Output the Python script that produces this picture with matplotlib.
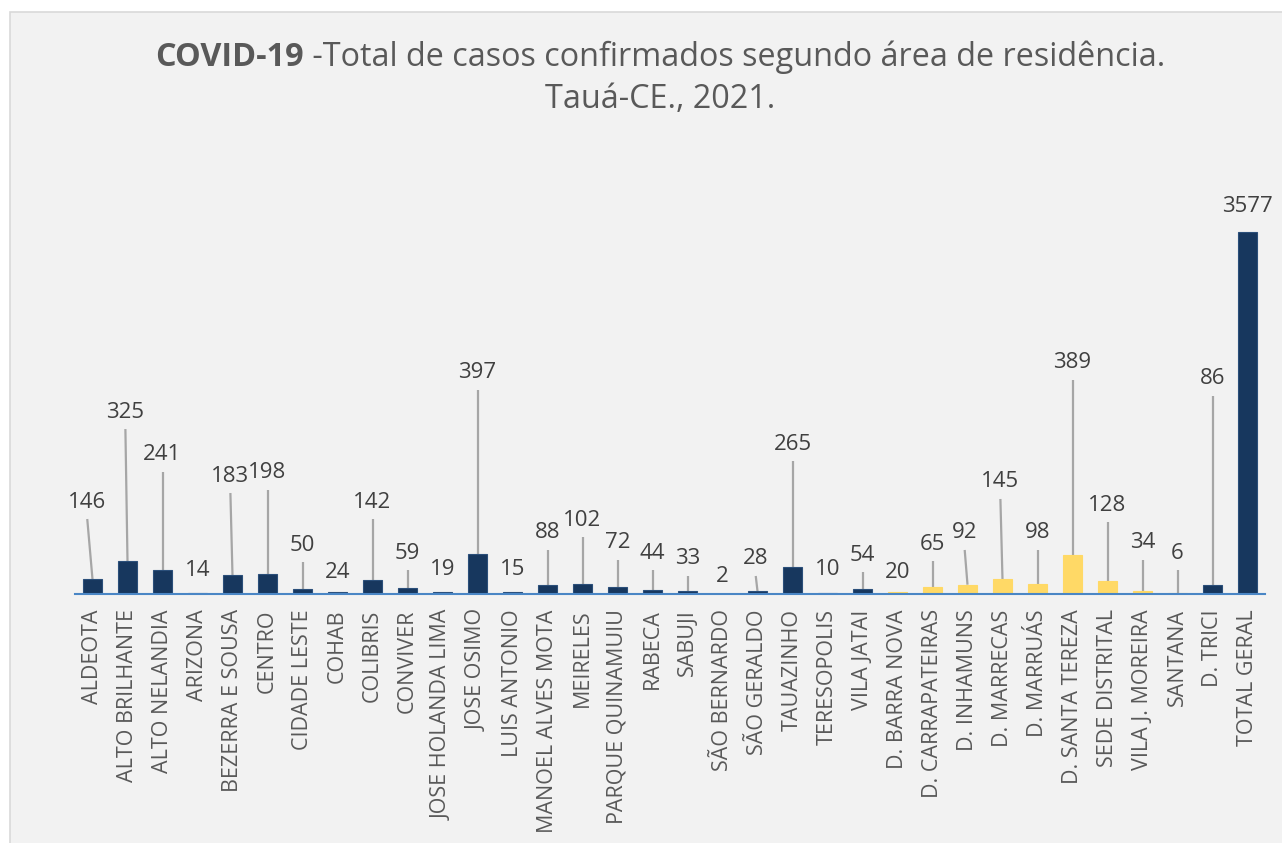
import matplotlib.pyplot as plt
from matplotlib.patches import Rectangle

# Data
categorias = [
    'ALDEOTA', 'ALTO BRILHANTE', 'ALTO NELANDIA', 'ARIZONA', 'BEZERRA E SOUSA',
    'CENTRO', 'CIDADE LESTE', 'COHAB', 'COLIBRIS', 'CONVIVER',
    'JOSE HOLANDA LIMA', 'JOSE OSIMO', 'LUIS ANTONIO', 'MANOEL ALVES MOTA',
    'MEIRELES', 'PARQUE QUINAMUIU', 'RABECA', 'SABUJI', 'SÃO BERNARDO',
    'SÃO GERALDO', 'TAUAZINHO', 'TERESOPOLIS', 'VILA JATAI', 'D. BARRA NOVA',
    'D. CARRAPATEIRAS', 'D. INHAMUNS', 'D. MARRECAS', 'D. MARRUÁS',
    'D. SANTA TEREZA', 'SEDE DISTRITAL', 'VILA J. MOREIRA', 'SANTANA',
    'D. TRICI', 'TOTAL GERAL',
]
casos = [146, 325, 241, 14, 183, 198, 50, 24, 142, 59, 19, 397, 15, 88, 102,
         72, 44, 33, 2, 28, 265, 10, 54, 20, 65, 92, 145, 98, 389, 128, 34, 6,
         86, 3577]
distritos = ['D. BARRA NOVA', 'D. CARRAPATEIRAS', 'D. INHAMUNS', 'D. MARRECAS',
             'D. MARRUÁS', 'D. SANTA TEREZA', 'SEDE DISTRITAL',
             'VILA J. MOREIRA', 'SANTANA']

# Where the data labels sit (data units, label centre), as in the original
rotulo_y = [909, 1798, 1374, 237, 1166, 1196, 484, 217, 909, 405, 247, 2184,
            247, 603, 731, 504, 405, 346, 168, 346, 1482, 247, 385, 217, 494,
            603, 1107, 603, 2283, 879, 504, 405, 2125, 3834]
rotulo_dx = {0: -0.15, 1: -0.06, 4: -0.06, 19: -0.05, 25: -0.08, 26: -0.06}

AZUL = '#17375E'
AMARELO = '#FFD966'
CINZA_TXT = '#404040'

plt.rcParams['font.family'] = ['Open Sans', 'DejaVu Sans']

fig = plt.figure(figsize=(12.82, 8.43), dpi=100)
fig.patch.set_facecolor('white')

# Gray chart panel
painel = Rectangle((10 / 1282, -0.01), 1.0, 1.01 - 12 / 843,
                   transform=fig.transFigure, facecolor='#F2F2F2',
                   edgecolor='#D9D9D9', linewidth=1.2, zorder=-10)
fig.add_artist(painel)

ax = fig.add_axes([75 / 1282, (843 - 594) / 843, 1190 / 1282, 424 / 843])
ax.set_facecolor('none')
ax.set_zorder(1)

x = list(range(len(categorias)))
cores = [AMARELO if c in distritos else AZUL for c in categorias]
bordas = ['#FFD966' if c in distritos else '#2B4F7A' for c in categorias]
ax.bar(x, casos, width=0.55, color=cores, edgecolor=bordas, linewidth=0.8,
       zorder=3)

ax.set_xlim(-0.5, len(categorias) - 0.5)
ax.set_ylim(0, 4190)

for i, (v, ly) in enumerate(zip(casos, rotulo_y)):
    lx = i + rotulo_dx.get(i, 0)
    ax.text(lx, ly, str(v), ha='center', va='center', fontsize=16,
            color=CINZA_TXT, zorder=4)
    inicio = ly - 168
    if inicio - v > 100:
        ax.plot([lx, i], [inicio, v], color='#A6A6A6', linewidth=1.6,
                zorder=2, solid_capstyle='butt')

ax.set_xticks(x)
ax.set_xticklabels(categorias, rotation=90, fontsize=15.5, color='#595959')
ax.tick_params(axis='x', length=0, pad=11)
ax.set_yticks([])
for s in ['top', 'right', 'left']:
    ax.spines[s].set_visible(False)
ax.spines['bottom'].set_color('#4A86C5')
ax.spines['bottom'].set_linewidth(1.5)
ax.spines['bottom'].set_zorder(5)

# Title: bold "COVID-19" followed by regular text
cx = 660 / 1282
r = fig.canvas.get_renderer()
t1 = fig.text(0, 0, 'COVID-19', fontsize=23.3, fontweight='bold', color='#595959')
t2 = fig.text(0, 0, ' -Total de casos confirmados segundo área de residência.',
              fontsize=23.3, color='#595959')
w1 = t1.get_window_extent(r).width / fig.bbox.width
w2 = t2.get_window_extent(r).width / fig.bbox.width
x0 = cx - (w1 + w2) / 2
y1 = 1 - 57 / 843
t1.set_position((x0, y1))
t1.set_va('center')
t2.set_position((x0 + w1, y1))
t2.set_va('center')
fig.text(cx, 1 - 99 / 843, 'Tauá-CE., 2021.', fontsize=23.3, color='#595959',
         ha='center', va='center')

fig.savefig('out.png', dpi=100)
